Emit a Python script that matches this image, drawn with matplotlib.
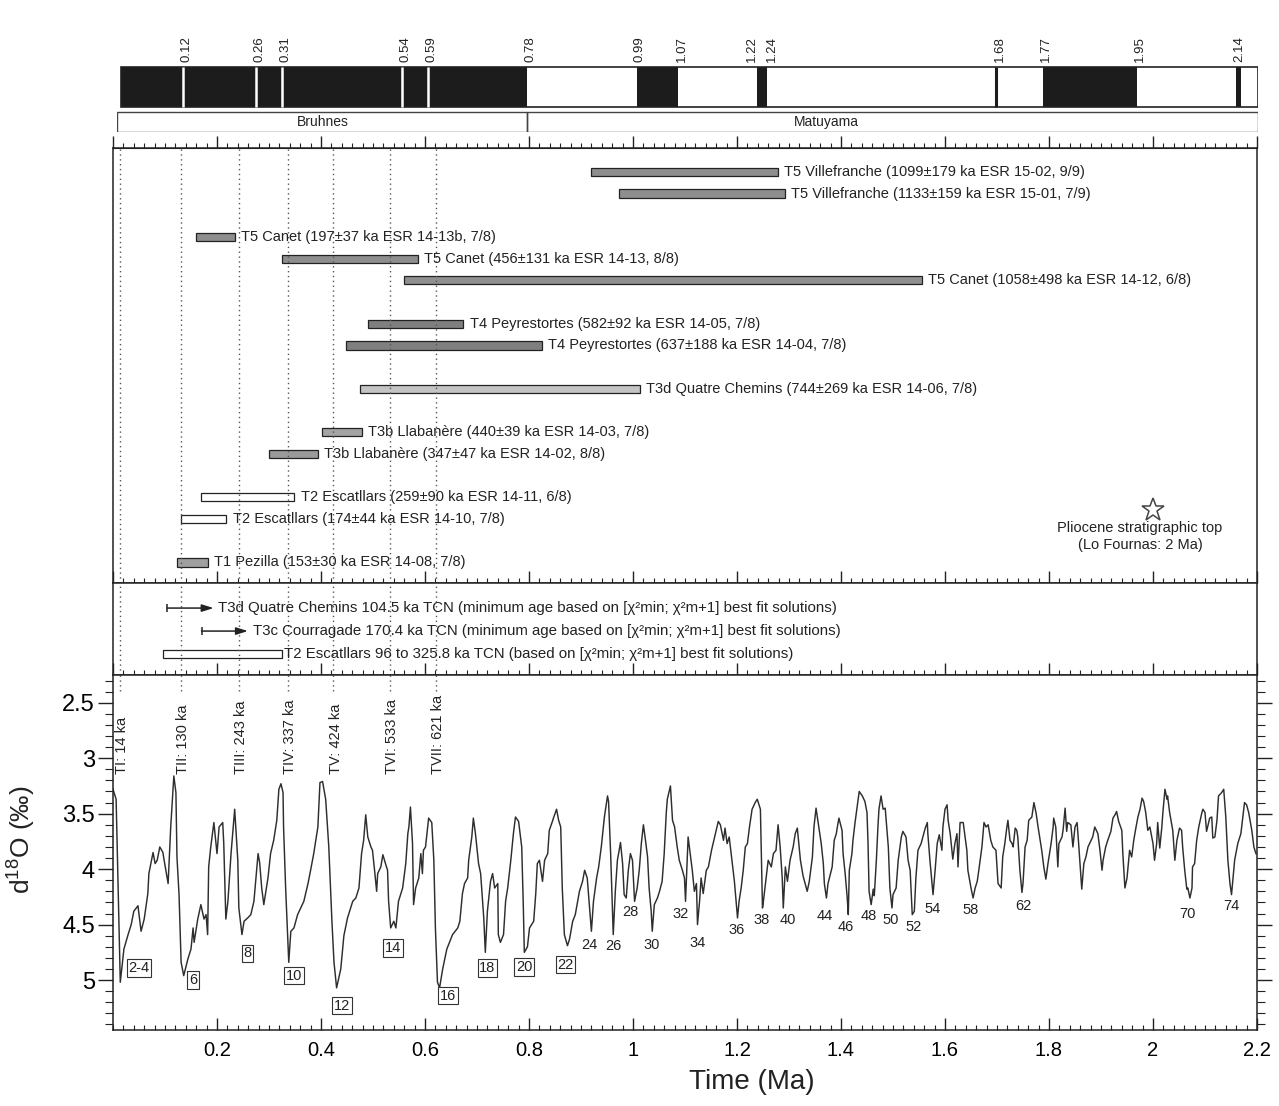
import numpy as np
import matplotlib
matplotlib.use("Agg")
import matplotlib.pyplot as plt
from matplotlib.ticker import MultipleLocator, FuncFormatter
from matplotlib.patches import Rectangle

plt.rcParams['font.family'] = ['Liberation Sans', 'DejaVu Sans']
plt.rcParams['mathtext.fontset'] = 'custom'
plt.rcParams['mathtext.rm'] = 'Liberation Sans'

# --- magnetostratigraphy (Ma)
normal_chrons = [(0.0, 0.78), (0.99, 1.07), (1.22, 1.24), (1.77, 1.95), (2.14, 2.15)]
excursions = [0.12, 0.26, 0.31, 0.54, 0.59]
short_events = [1.68]
polarity_ticks = [0.12, 0.26, 0.31, 0.54, 0.59, 0.78, 0.99, 1.07, 1.22, 1.24, 1.68, 1.77, 1.95, 2.14]
chron_names = ["Bruhnes", "Matuyama"]
chron_label_t = [0.387, 1.354]
chron_bound = 0.78

# --- ESR ages (ka)
esr_labels = [
    "T5 Villefranche (1099±179 ka ESR 15-02, 9/9)",
    "T5 Villefranche (1133±159 ka ESR 15-01, 7/9)",
    "T5 Canet (197±37 ka ESR 14-13b, 7/8)",
    "T5 Canet (456±131 ka ESR 14-13, 8/8)",
    "T5 Canet (1058±498 ka ESR 14-12, 6/8)",
    "T4 Peyrestortes (582±92 ka ESR 14-05, 7/8)",
    "T4 Peyrestortes (637±188 ka ESR 14-04, 7/8)",
    "T3d Quatre Chemins (744±269 ka ESR 14-06, 7/8)",
    "T3b Llabanère (440±39 ka ESR 14-03, 7/8)",
    "T3b Llabanère (347±47 ka ESR 14-02, 8/8)",
    "T2 Escatllars (259±90 ka ESR 14-11, 6/8)",
    "T2 Escatllars (174±44 ka ESR 14-10, 7/8)",
    "T1 Pezilla (153±30 ka ESR 14-08, 7/8)",
]
esr_age = [1099, 1133, 197, 456, 1058, 582, 637, 744, 440, 347, 259, 174, 153]
esr_err = [179, 159, 37, 131, 498, 92, 188, 269, 39, 47, 90, 44, 30]
esr_row = [0, 1, 3, 4, 5, 7, 8, 10, 12, 13, 15, 16, 18]
esr_fill = ["#8e8e8e", "#8e8e8e", "#8e8e8e", "#8e8e8e", "#909090", "#7f7f7f", "#7f7f7f",
            "#c4c4c4", "#a4a4a4", "#9a9a9a", "white", "white", "#a0a0a0"]

# --- TCN ages (ka)
tcn_arrow_labels = [
    "T3d Quatre Chemins 104.5 ka TCN (minimum age based on [χ²min; χ²m+1] best fit solutions)",
    "T3c Courragade 170.4 ka TCN (minimum age based on [χ²min; χ²m+1] best fit solutions)",
]
tcn_min_age = [104.5, 170.4]
tcn_range_label = "T2 Escatllars 96 to 325.8 ka TCN (based on [χ²min; χ²m+1] best fit solutions)"
tcn_range = (96, 325.8)

# --- glacial terminations (ka)
term_names = ["TI", "TII", "TIII", "TIV", "TV", "TVI", "TVII"]
term_ka = [14, 130, 243, 337, 424, 533, 621]

# --- benthic d18O stack (age ka, d18O permil)
age_ka = [0, 6, 14, 21, 29, 35, 40, 48, 54, 60, 67, 69, 77, 81, 85, 90, 96, 98, 106, 108,
          111, 115, 117, 121, 123, 127, 131, 136, 144, 150, 154, 156, 163, 169, 175, 179, 182, 184, 188, 194,
          200, 204, 211, 213, 217, 221, 227, 234, 240, 242, 248, 252, 259, 265, 271, 279, 282, 286, 290, 298,
          303, 309, 315, 319, 323, 327, 328, 332, 338, 342, 348, 355, 361, 367, 375, 380, 386, 394, 398, 403,
          409, 415, 421, 425, 430, 438, 444, 451, 461, 467, 473, 478, 482, 486, 490, 496, 499, 503, 507, 509,
          515, 519, 524, 528, 530, 534, 540, 544, 549, 557, 563, 567, 569, 572, 576, 578, 582, 588, 592, 595,
          597, 601, 607, 613, 617, 620, 624, 628, 634, 642, 653, 663, 667, 672, 676, 682, 684, 690, 693, 697,
          703, 707, 713, 716, 720, 726, 730, 734, 740, 741, 745, 751, 755, 759, 765, 770, 774, 780, 786, 789,
          791, 797, 801, 809, 813, 816, 820, 826, 830, 836, 839, 845, 847, 853, 857, 861, 864, 868, 874, 878,
          884, 889, 897, 903, 907, 912, 916, 920, 924, 930, 934, 939, 943, 945, 951, 953, 957, 962, 966, 970,
          976, 980, 983, 987, 991, 995, 999, 1003, 1008, 1012, 1016, 1020, 1024, 1028, 1031, 1035, 1037, 1041, 1047, 1051,
          1056, 1060, 1064, 1066, 1072, 1076, 1080, 1085, 1089, 1095, 1099, 1101, 1104, 1106, 1110, 1114, 1118, 1122, 1124, 1128,
          1131, 1135, 1141, 1145, 1151, 1154, 1160, 1164, 1168, 1174, 1177, 1181, 1185, 1191, 1195, 1201, 1204, 1208, 1212, 1216,
          1220, 1224, 1229, 1235, 1239, 1245, 1249, 1250, 1256, 1260, 1266, 1270, 1275, 1279, 1283, 1287, 1289, 1293, 1297, 1302,
          1308, 1312, 1316, 1322, 1327, 1335, 1339, 1345, 1348, 1352, 1356, 1362, 1366, 1368, 1372, 1375, 1383, 1387, 1391, 1393,
          1396, 1402, 1404, 1408, 1412, 1414, 1416, 1421, 1423, 1427, 1431, 1435, 1441, 1446, 1450, 1452, 1454, 1458, 1462, 1464,
          1468, 1471, 1473, 1477, 1481, 1485, 1491, 1494, 1498, 1500, 1506, 1510, 1516, 1519, 1525, 1529, 1533, 1537, 1541, 1544,
          1548, 1554, 1562, 1566, 1567, 1571, 1575, 1577, 1581, 1585, 1589, 1594, 1596, 1600, 1604, 1606, 1610, 1614, 1615, 1619,
          1623, 1625, 1629, 1635, 1642, 1644, 1650, 1654, 1658, 1662, 1665, 1671, 1675, 1679, 1683, 1688, 1692, 1698, 1702, 1708,
          1711, 1715, 1719, 1721, 1725, 1729, 1731, 1735, 1738, 1740, 1744, 1748, 1750, 1754, 1758, 1761, 1767, 1771, 1775, 1779,
          1783, 1786, 1790, 1794, 1798, 1804, 1808, 1809, 1813, 1817, 1819, 1825, 1827, 1831, 1834, 1836, 1842, 1846, 1850, 1854,
          1857, 1863, 1867, 1871, 1875, 1881, 1884, 1888, 1892, 1894, 1898, 1902, 1904, 1909, 1913, 1919, 1923, 1927, 1930, 1934,
          1940, 1942, 1946, 1950, 1955, 1959, 1963, 1967, 1971, 1975, 1979, 1982, 1986, 1990, 1994, 2000, 2003, 2007, 2009, 2013,
          2017, 2019, 2023, 2027, 2028, 2032, 2038, 2042, 2046, 2051, 2055, 2057, 2061, 2065, 2067, 2071, 2075, 2076, 2080, 2084,
          2088, 2094, 2096, 2100, 2103, 2105, 2109, 2113, 2115, 2119, 2123, 2126, 2132, 2136, 2140, 2144, 2148, 2151, 2153, 2157,
          2163, 2169, 2172, 2176, 2180, 2184, 2190, 2194, 2198]
d18o = [3.28, 3.37, 5.02, 4.72, 4.59, 4.50, 4.38, 4.33, 4.56, 4.45, 4.22, 4.04, 3.85, 3.95, 3.92, 3.80, 3.85, 3.91, 4.13, 3.92,
        3.62, 3.31, 3.16, 3.31, 3.89, 4.23, 4.84, 4.96, 4.81, 4.72, 4.53, 4.66, 4.45, 4.32, 4.45, 4.41, 4.59, 3.98, 3.80, 3.58,
        3.86, 3.62, 3.58, 3.77, 4.45, 4.29, 3.86, 3.46, 3.92, 4.35, 4.59, 4.47, 4.44, 4.41, 4.29, 3.86, 3.94, 4.17, 4.32, 4.08,
        3.86, 3.74, 3.56, 3.28, 3.23, 3.31, 3.62, 4.17, 4.84, 4.56, 4.53, 4.41, 4.35, 4.29, 4.13, 4.01, 3.86, 3.62, 3.22, 3.21,
        3.37, 3.80, 4.47, 4.84, 5.07, 4.90, 4.60, 4.44, 4.29, 4.26, 4.17, 3.86, 3.74, 3.51, 3.71, 3.80, 3.83, 4.01, 4.20, 4.04,
        3.98, 3.87, 3.95, 4.01, 4.29, 4.53, 4.47, 4.53, 4.29, 4.17, 3.95, 3.68, 3.62, 3.44, 3.77, 4.32, 4.17, 4.08, 3.86, 4.04,
        3.83, 3.80, 3.54, 3.58, 3.92, 4.53, 5.02, 5.07, 4.90, 4.72, 4.59, 4.53, 4.47, 4.22, 4.13, 4.08, 3.92, 3.71, 3.54, 3.68,
        3.95, 4.04, 4.44, 4.75, 4.38, 4.11, 4.04, 4.17, 4.13, 4.59, 4.66, 4.59, 4.29, 4.17, 3.92, 3.68, 3.53, 3.57, 3.80, 4.32,
        4.75, 4.70, 4.53, 4.47, 4.22, 3.95, 3.92, 4.11, 3.92, 3.86, 3.65, 3.57, 3.54, 3.46, 3.56, 3.62, 4.17, 4.59, 4.69, 4.63,
        4.47, 4.41, 4.20, 4.11, 4.01, 4.08, 4.32, 4.56, 4.29, 4.08, 3.98, 3.80, 3.62, 3.53, 3.34, 3.39, 3.86, 4.59, 4.20, 3.92,
        3.76, 3.95, 4.23, 4.26, 4.01, 3.86, 3.92, 4.29, 4.17, 4.01, 3.77, 3.60, 3.74, 3.89, 4.17, 4.38, 4.56, 4.32, 4.26, 4.20,
        4.11, 3.86, 3.49, 3.37, 3.25, 3.56, 3.62, 3.80, 3.92, 4.01, 4.08, 4.29, 3.95, 3.71, 3.86, 4.01, 4.20, 4.13, 4.50, 4.29,
        4.08, 4.22, 4.01, 3.98, 3.83, 3.77, 3.65, 3.57, 3.60, 3.74, 3.63, 3.77, 3.71, 3.95, 4.11, 4.44, 4.29, 4.17, 4.01, 3.80,
        3.77, 3.62, 3.46, 3.40, 3.37, 3.46, 4.35, 4.32, 4.08, 3.92, 3.98, 3.86, 3.83, 3.60, 3.80, 4.08, 4.35, 3.98, 4.11, 3.92,
        3.80, 3.68, 3.63, 3.92, 4.06, 4.20, 4.11, 3.89, 3.62, 3.45, 3.58, 3.77, 3.95, 4.13, 4.26, 4.13, 3.98, 3.74, 3.68, 3.62,
        3.54, 3.65, 3.86, 4.04, 4.26, 4.41, 4.01, 3.86, 3.74, 3.58, 3.44, 3.30, 3.34, 3.39, 3.49, 3.77, 4.20, 4.32, 4.18, 4.24,
        3.92, 3.62, 3.46, 3.34, 3.46, 3.45, 3.80, 4.17, 4.35, 4.23, 4.17, 3.92, 3.71, 3.66, 3.71, 3.92, 4.01, 4.41, 4.38, 4.08,
        3.83, 3.77, 3.63, 3.58, 3.68, 3.92, 4.13, 4.23, 4.01, 3.77, 3.69, 3.83, 3.62, 3.46, 3.42, 3.56, 3.68, 3.86, 3.91, 3.77,
        3.68, 3.98, 3.58, 3.58, 3.83, 4.01, 4.17, 4.26, 4.17, 4.11, 4.01, 3.80, 3.58, 3.62, 3.60, 3.74, 3.80, 3.83, 4.13, 4.17,
        3.89, 3.77, 3.62, 3.56, 3.74, 3.77, 3.80, 3.63, 3.65, 3.71, 4.01, 4.21, 4.13, 3.80, 3.74, 3.56, 3.53, 3.40, 3.49, 3.62,
        3.74, 3.83, 3.98, 4.09, 3.95, 3.77, 3.62, 3.54, 3.62, 3.98, 3.77, 3.71, 3.65, 3.45, 3.66, 3.58, 3.60, 3.80, 3.62, 3.58,
        3.77, 4.18, 3.95, 3.89, 3.80, 3.74, 3.71, 3.62, 3.66, 3.68, 3.83, 4.01, 3.92, 3.80, 3.74, 3.66, 3.54, 3.51, 3.48, 3.57,
        3.65, 3.86, 4.17, 4.08, 3.83, 3.89, 3.74, 3.63, 3.53, 3.46, 3.36, 3.39, 3.49, 3.65, 3.62, 3.77, 3.92, 3.77, 3.58, 3.81,
        3.62, 3.49, 3.28, 3.37, 3.34, 3.49, 3.65, 3.92, 3.74, 3.63, 3.65, 3.80, 4.01, 4.18, 4.17, 4.26, 4.17, 3.98, 3.95, 3.74,
        3.62, 3.49, 3.46, 3.49, 3.66, 3.62, 3.54, 3.53, 3.72, 3.71, 3.56, 3.34, 3.31, 3.28, 3.53, 3.92, 4.13, 4.23, 4.13, 3.92,
        3.77, 3.68, 3.56, 3.40, 3.42, 3.49, 3.65, 3.80, 3.86]

# --- marine isotope stages labels (Ma, d18O)
mis_text = ["2-4", "6", "8", "10", "12", "14", "16", "18", "20", "22", "24", "26", "28", "30", "32",
            "34", "36", "38", "40", "44", "46", "48", "50", "52", "54", "58", "62", "70", "74"]
mis_t = [0.050, 0.154, 0.259, 0.348, 0.440, 0.538, 0.644, 0.720, 0.791, 0.870, 0.916, 0.962, 0.995, 1.036, 1.091,
         1.124, 1.200, 1.247, 1.297, 1.369, 1.410, 1.454, 1.496, 1.539, 1.577, 1.650, 1.750, 2.067, 2.150]
mis_d = [4.89, 5.00, 4.76, 4.96, 5.23, 4.71, 5.14, 4.89, 4.88, 4.86, 4.68, 4.69, 4.39, 4.68, 4.40,
         4.67, 4.55, 4.46, 4.46, 4.42, 4.52, 4.42, 4.46, 4.52, 4.36, 4.37, 4.33, 4.40, 4.33]
mis_boxed = 10  # the first ten labels are boxed

time_ticks = [0.2, 0.4, 0.6, 0.8, 1.0, 1.2, 1.4, 1.6, 1.8, 2.0, 2.2]
d18o_ticks = [2.5, 3.0, 3.5, 4.0, 4.5, 5.0]

W, H = 1279, 1106
fig = plt.figure(figsize=(W / 100, H / 100), dpi=100)


def px_box(x0, y0, x1, y1):
    return [x0 / W, 1 - y1 / H, (x1 - x0) / W, (y1 - y0) / H]


ink = "#222222"
term_t = [a / 1000 for a in term_ka]
fmt = FuncFormatter(lambda v, p: f"{v:g}")

# ---------- polarity column
ax_p = fig.add_axes(px_box(117, 20, 1258, 132))
ax_p.set_xlim(-0.007, 2.182)
ax_p.set_ylim(0, 112)
ax_p.axis("off")
ax_p.broken_barh([(s, e - s) for s, e in normal_chrons], (25, 40), facecolors="#1c1c1c")
ax_p.vlines(excursions, 25, 65, colors="white", lw=1.8)
ax_p.vlines(short_events, 25, 65, colors="#1c1c1c", lw=2.2)
ax_p.add_patch(Rectangle((0, 25), 2.182, 40, fill=False, ec=ink, lw=1.2))
ax_p.add_patch(Rectangle((-0.007, 0), chron_bound + 0.007, 20, fill=False, ec="#444444", lw=1))
ax_p.add_patch(Rectangle((chron_bound, 0), 2.182 - chron_bound, 20, fill=False, ec="#444444", lw=1))
for name, t in zip(chron_names, chron_label_t):
    ax_p.text(t, 10, name, ha="center", va="center", fontsize=10, color=ink)
for i, t in enumerate(polarity_ticks):
    # the two close boundaries at 1.22 / 1.24 are pushed apart a little
    nudge = {1.22: -0.008, 1.24: 0.010}.get(t, 0.006)
    ax_p.text(t + nudge, 70, f"{t:.2f}", rotation=90, ha="center", va="bottom", fontsize=9.5, color=ink)

# ---------- ESR panel
ax_e = fig.add_axes(px_box(113, 148, 1257, 583))
ax_e.set_xlim(0, 2.2)
ax_e.set_ylim(18.95, -1.1)
ax_e.set_yticks([])
for t in term_t:
    ax_e.axvline(t, color="#555555", ls=(0, (1, 2.5)), lw=1)
for lab, age, err, row, fc in zip(esr_labels, esr_age, esr_err, esr_row, esr_fill):
    lo, hi = (age - err) / 1000, (age + err) / 1000
    ax_e.barh(row, hi - lo, left=lo, height=0.38, color=fc, edgecolor=ink, lw=0.9)
    ax_e.text(hi + 0.012, row, lab, ha="left", va="center", fontsize=10.5, color=ink)
ax_e.plot(2.0, 15.58, marker="*", ms=17, mfc="white", mec="#444444", mew=1.1)
ax_e.text(1.975, 16.1, "Pliocene stratigraphic top\n(Lo Fournas: 2 Ma)", ha="center", va="top",
          fontsize=10.5, color=ink, linespacing=1.3)

# ---------- TCN panel
ax_c = fig.add_axes(px_box(113, 583, 1257, 675))
ax_c.set_xlim(0, 2.2)
ax_c.set_ylim(2.91, -1.09)
ax_c.set_yticks([])
for t in term_t:
    ax_c.axvline(t, color="#555555", ls=(0, (1, 2.5)), lw=1)
for row, (lab, age) in enumerate(zip(tcn_arrow_labels, tcn_min_age)):
    start = age / 1000
    ax_c.annotate("", xy=(start + 0.089, row), xytext=(start, row),
                  arrowprops=dict(arrowstyle="-|>,head_length=0.7,head_width=0.22",
                                  color=ink, lw=1.1, shrinkA=0, shrinkB=0))
    ax_c.plot(start, row, marker="|", ms=6, mew=1.1, color=ink)
    ax_c.text(start + 0.098, row, lab, ha="left", va="center", fontsize=10.8, color=ink)
lo, hi = tcn_range[0] / 1000, tcn_range[1] / 1000
ax_c.barh(2, hi - lo, left=lo, height=0.38, color="white", edgecolor=ink, lw=0.9)
ax_c.text(hi + 0.004, 2, tcn_range_label, ha="left", va="center", fontsize=10.8, color=ink)

for ax in (ax_e, ax_c):
    ax.xaxis.set_major_locator(MultipleLocator(0.2))
    ax.xaxis.set_minor_locator(MultipleLocator(0.02))
    ax.tick_params(axis="x", which="both", labelbottom=False, top=False, bottom=True, direction="in",
                   color=ink)
    ax.tick_params(axis="x", which="major", length=9, width=1)
    ax.tick_params(axis="x", which="minor", length=3.5, width=0.8)
    for s in ax.spines.values():
        s.set_color(ink)
        s.set_linewidth(1.1)
# ticks standing up above the ESR frame
ax_e_top = ax_e.secondary_xaxis("top")
ax_e_top.xaxis.set_major_locator(MultipleLocator(0.2))
ax_e_top.xaxis.set_minor_locator(MultipleLocator(0.02))
ax_e_top.tick_params(axis="x", which="both", direction="out", labeltop=False, color=ink)
ax_e_top.tick_params(axis="x", which="major", length=9, width=1)
ax_e_top.tick_params(axis="x", which="minor", length=3.5, width=0.8)
ax_e_top.spines["top"].set_color(ink)

# ---------- d18O panel
ax_d = fig.add_axes(px_box(113, 675, 1257, 1030))
ax_d.plot(np.array(age_ka) / 1000, d18o, color="#2e2e2e", lw=1.05)
ax_d.set_xlim(0, 2.2)
ax_d.set_ylim(5.45, 2.25)
ax_d.set_xticks(time_ticks)
ax_d.xaxis.set_minor_locator(MultipleLocator(0.02))
ax_d.set_yticks(d18o_ticks)
ax_d.yaxis.set_minor_locator(MultipleLocator(0.1))
ax_d.xaxis.set_major_formatter(fmt)
ax_d.yaxis.set_major_formatter(fmt)
ax_d.tick_params(axis="x", which="both", direction="in", top=False, color=ink, labelsize=14.5, pad=8)
ax_d.tick_params(axis="x", which="major", length=9, width=1)
ax_d.tick_params(axis="x", which="minor", length=3.5, width=0.8)
ax_d.tick_params(axis="y", which="both", direction="out", right=True, color=ink, labelsize=17, pad=2)
ax_d.tick_params(axis="y", which="major", length=11, width=1)
ax_d.tick_params(axis="y", which="minor", length=5.5, width=0.8)
for s in ax_d.spines.values():
    s.set_color(ink)
    s.set_linewidth(1.1)
ax_d.set_xlabel("Time (Ma)", fontsize=20, color=ink)
ax_d.xaxis.set_label_coords(0.5586, -0.11)
ax_d.set_ylabel("d$^{18}$O (‰)", fontsize=19, color=ink)
ax_d.yaxis.set_label_coords(-0.066, 0.535)

for t in term_t:
    ax_d.vlines(t, 2.25, 2.42, colors="#555555", linestyles=(0, (1, 2.5)), lw=1)
for name, ka, t in zip(term_names, term_ka, term_t):
    ax_d.text(t + 0.004, 3.14, f"{name}: {ka} ka", rotation=90, ha="center", va="bottom",
              fontsize=10.5, color=ink)

for i, (txt, t, d) in enumerate(zip(mis_text, mis_t, mis_d)):
    box = dict(boxstyle="square,pad=0.12", fc="white", ec="#333333", lw=0.8) if i < mis_boxed else None
    ax_d.text(t, d, txt, ha="center", va="center", fontsize=10.5, color=ink, bbox=box)

fig.savefig("out.png", dpi=100, facecolor="white")
